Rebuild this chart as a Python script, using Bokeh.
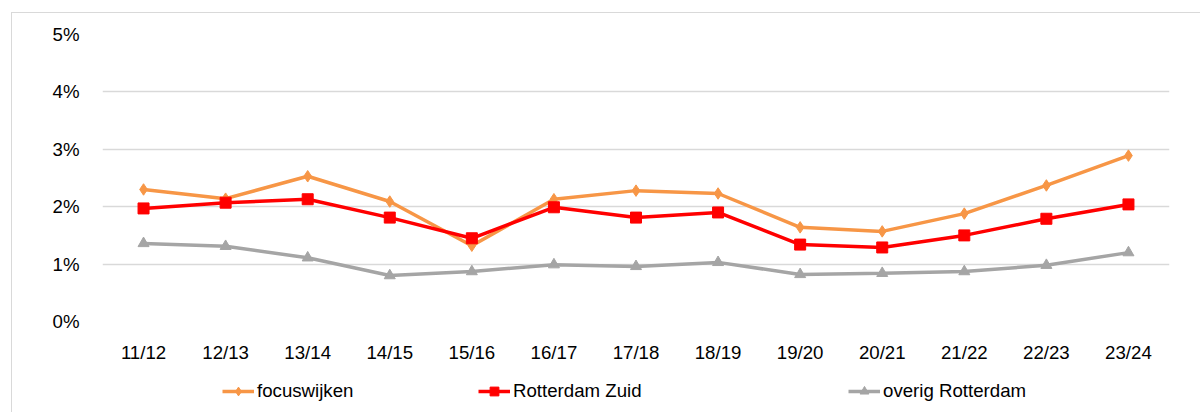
from bokeh.plotting import figure
from bokeh.layouts import column
from bokeh.models import Range1d, FactorRange, FixedTicker, NumeralTickFormatter, Legend, LegendItem
from bokeh.embed import file_html
from bokeh.resources import INLINE

years = ["11/12", "12/13", "13/14", "14/15", "15/16", "16/17", "17/18",
         "18/19", "19/20", "20/21", "21/22", "22/23", "23/24"]
focuswijken = [0.0230, 0.0214, 0.0253, 0.0209, 0.0132, 0.0213, 0.0228,
               0.0223, 0.0164, 0.0157, 0.0188, 0.0237, 0.0289]
rotterdam_zuid = [0.0197, 0.0207, 0.0213, 0.0181, 0.0145, 0.0199, 0.0181,
                  0.0190, 0.0134, 0.0129, 0.0150, 0.0179, 0.0204]
overig_rotterdam = [0.0136, 0.0131, 0.0111, 0.0080, 0.0087, 0.0099, 0.0096,
                    0.0103, 0.0082, 0.0084, 0.0087, 0.0098, 0.0120]
y_ticks = [0.0, 0.01, 0.02, 0.03, 0.04, 0.05]

FONT = "Liberation Sans"
GRID = "#d9d9d9"

p = figure(x_range=FactorRange(*years), y_range=Range1d(0, 0.05),
           width=1188, height=352, output_backend="svg", toolbar_location=None,
           min_border_left=90, min_border_right=31, min_border_top=21, min_border_bottom=44,
           background_fill_color="white", border_fill_color="white")
p.outline_line_color = None

p.xgrid.grid_line_color = None
p.ygrid.grid_line_color = GRID
p.ygrid.grid_line_width = 1.3

p.yaxis.ticker = FixedTicker(ticks=y_ticks)
p.yaxis.formatter = NumeralTickFormatter(format="0%")
p.yaxis.axis_line_color = None
p.yaxis.major_tick_line_color = None
p.yaxis.minor_tick_line_color = None
p.yaxis.major_label_standoff = 17
p.xaxis.axis_line_color = None
p.xaxis.major_tick_line_color = None
p.xaxis.major_label_standoff = 14
for ax in (p.xaxis, p.yaxis):
    ax.major_label_text_font = FONT
    ax.major_label_text_font_size = "14pt"
    ax.major_label_text_color = "#000000"

# legend strip below the chart (its frame is aligned with the chart's frame)
lg = figure(x_range=Range1d(0, 1), y_range=Range1d(0, 1), width=1188, height=47,
            output_backend="svg", toolbar_location=None,
            x_axis_location=None, y_axis_location=None,
            min_border_left=90, min_border_right=31, min_border_top=0, min_border_bottom=0,
            background_fill_color="white", border_fill_color="white")
lg.grid.visible = False
lg.outline_line_color = None

series = [
    ("focuswijken", focuswijken, "#F79646", "diamond", 11.5),
    ("Rotterdam Zuid", rotterdam_zuid, "#FF0000", "square", 11),
    ("overig Rotterdam", overig_rotterdam, "#A5A5A5", "triangle", 11),
]
legend_x = [120, 376, 746]
nan = float("nan")
for (name, vals, color, marker, size), lx in zip(series, legend_x):
    p.line(years, vals, line_color=color, line_width=3.5)
    p.scatter(years, vals, marker=marker, size=size, fill_color=color, line_color=color)
    k1 = lg.line(x=[nan], y=[nan], line_color=color, line_width=3.5)
    k2 = lg.scatter(x=[nan], y=[nan], marker=marker, size=size, fill_color=color, line_color=color)
    leg = Legend(items=[LegendItem(label=name, renderers=[k1, k2])],
                 location=(lx, 10), orientation="horizontal",
                 label_text_font=FONT, label_text_font_size="14pt", label_text_color="#000000",
                 glyph_width=32, glyph_height=22, label_height=22, label_standoff=3,
                 padding=0, margin=0, spacing=0, border_line_color=None,
                 background_fill_alpha=0)
    lg.add_layout(leg, "center")

layout = column(p, lg, spacing=0)
layout.margin = (12, 0, 0, 11)
layout.styles = {"border-top": "1px solid #d9d9d9", "border-left": "1px solid #d9d9d9"}

open("out.html", "w").write(file_html(layout, INLINE))
